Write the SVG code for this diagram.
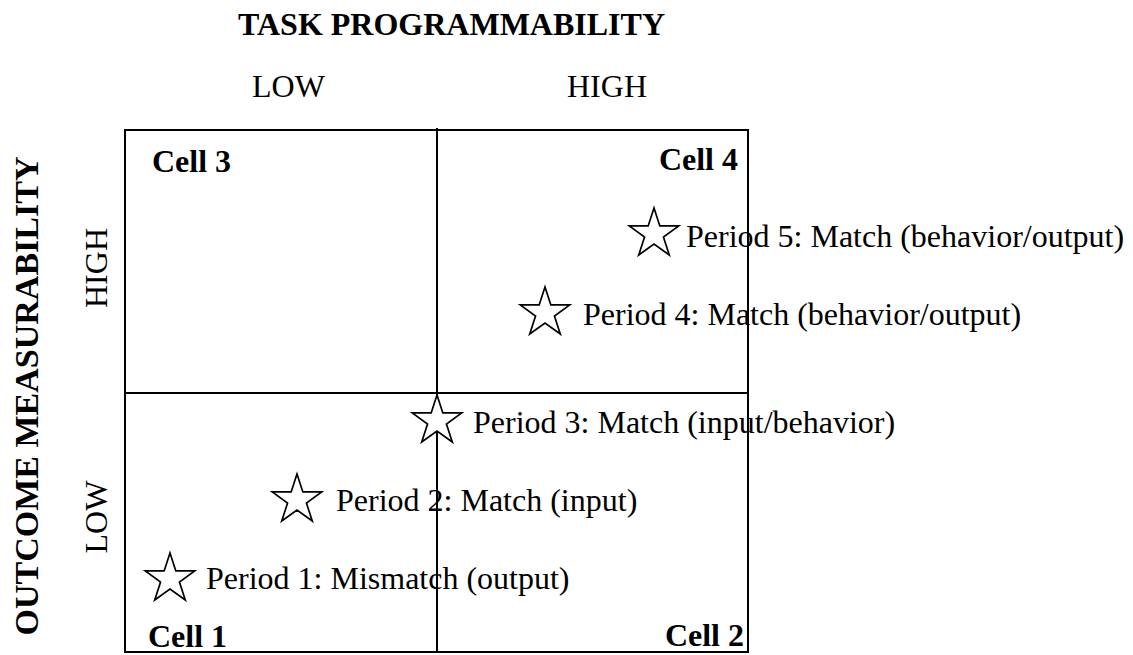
<svg xmlns="http://www.w3.org/2000/svg" width="1133" height="655" viewBox="0 0 1133 655">
<defs>
<style>
text{font-family:"Liberation Serif","Times New Roman",serif;font-size:32px;fill:#000}
.b{font-weight:bold}
.ln{stroke:#000;stroke-width:2;fill:none}
.star{fill:#fff;stroke:#000;stroke-width:1.7;stroke-linejoin:miter}
</style>
<polygon id="st" points="0,-26 5.84,-8.04 24.73,-8.04 9.45,3.07 15.28,21.03 0,9.94 -15.28,21.03 -9.45,3.07 -24.73,-8.04 -5.84,-8.04"/>
</defs>
<rect width="1133" height="655" fill="#fff"/>
<g id="axes">
<text class="b" x="238" y="35">TASK PROGRAMMABILITY</text>
<text x="252" y="97">LOW</text>
<text x="567" y="97">HIGH</text>
<text class="b" text-anchor="middle" style="font-size:34px" transform="translate(38,396) rotate(-90)">OUTCOME MEASURABILITY</text>
<text text-anchor="middle" transform="translate(107,268) rotate(-90)">HIGH</text>
<text text-anchor="middle" transform="translate(107,517) rotate(-90)">LOW</text>
</g>
<g id="grid">
<rect class="ln" x="125" y="130" width="623" height="522"/>
<line class="ln" x1="437" y1="128" x2="437" y2="652"/>
<line class="ln" x1="125" y1="393" x2="748" y2="393"/>
</g>
<g id="cells">
<text class="b" x="152" y="172">Cell 3</text>
<text class="b" x="738" y="170" text-anchor="end">Cell 4</text>
<text class="b" x="148" y="647">Cell 1</text>
<text class="b" x="744" y="646" text-anchor="end">Cell 2</text>
</g>
<g id="period1"><use href="#st" class="star" x="170" y="579"/><text x="206" y="589">Period 1: Mismatch (output)</text></g>
<g id="period2"><use href="#st" class="star" x="297" y="500"/><text x="336" y="511">Period 2: Match (input)</text></g>
<g id="period3"><use href="#st" class="star" x="437" y="421"/><text x="473" y="433">Period 3: Match (input/behavior)</text></g>
<g id="period4"><use href="#st" class="star" x="545" y="313"/><text x="583" y="325">Period 4: Match (behavior/output)</text></g>
<g id="period5"><use href="#st" class="star" x="654" y="234"/><text x="686" y="247">Period 5: Match (behavior/output)</text></g>
</svg>
